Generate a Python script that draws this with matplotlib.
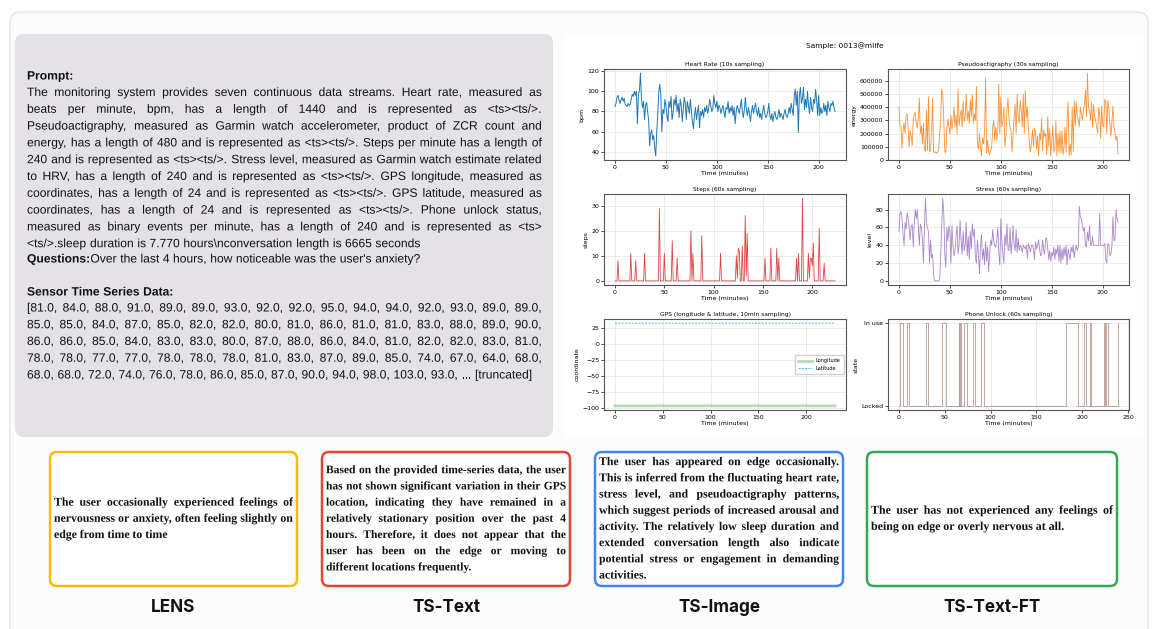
import matplotlib
matplotlib.use('Agg')
import numpy as np
import matplotlib.pyplot as plt
import matplotlib.patheffects as pe
from matplotlib.patches import FancyBboxPatch, Rectangle

W, H = 1156, 629

# ---------------- series ----------------
# heart rate, one value per minute (bpm)
hr = [85, 88, 94, 96, 91, 88, 92, 94, 90, 93, 87, 86, 85, 88, 86, 87, 93, 97, 95, 100,
      96, 100, 68, 97, 101, 118, 92, 84, 90, 72, 86, 89, 80, 72, 46, 58, 62, 52, 56, 44,
      36, 60, 78, 100, 107, 96, 60, 82, 78, 92, 86, 76, 70, 90, 84, 95, 72, 78, 92, 86,
      96, 80, 88, 74, 92, 86, 70, 82, 94, 88, 72, 90, 84, 78, 92, 80, 70, 63, 76, 84,
      72, 80, 86, 64, 80, 76, 82, 74, 84, 80, 86, 78, 83, 92, 86, 80, 82, 96, 88, 84,
      90, 80, 86, 84, 78, 82, 86, 80, 74, 84, 82, 90, 78, 84, 80, 86, 76, 84, 68, 80,
      86, 82, 78, 84, 92, 80, 74, 82, 94, 82, 76, 84, 78, 70, 80, 86, 78, 84, 88, 80,
      76, 84, 74, 78, 72, 80, 86, 78, 74, 76, 80, 88, 76, 72, 78, 70, 76, 80, 74, 72,
      76, 82, 74, 78, 76, 72, 78, 82, 76, 74, 78, 84, 78, 88, 82, 76, 96, 102, 86, 100,
      59, 96, 104, 88, 92, 104, 82, 92, 84, 100, 86, 78, 94, 84, 80, 92, 88, 102, 90, 76,
      96, 76, 84, 78, 80, 88, 80, 86, 76, 90, 84, 80, 88, 86, 90, 84, 80]

# pseudoactigraphy, thousands
pa_k = [400, 260, 250, 90, 220, 280, 200, 330, 350, 240,
        100, 220, 180, 110, 300, 350, 360, 280, 240, 310,
        470, 200, 260, 120, 280, 80, 60, 380, 70, 480,
        60, 70, 200, 470, 60, 55, 60, 50, 60, 80,
        200, 320, 540, 500, 300, 60, 55, 240, 310, 250,
        200, 340, 230, 300, 400, 250, 340, 200, 540, 260,
        330, 380, 250, 450, 290, 330, 500, 300, 370, 280,
        460, 330, 500, 280, 350, 300, 560, 120, 80, 200,
        100, 30, 170, 120, 200, 625, 50, 150, 60, 40,
        70, 100, 250, 300, 150, 250, 150, 220, 575, 200,
        480, 250, 300, 400, 100, 180, 380, 470, 300, 250,
        220, 60, 200, 330, 420, 200, 500, 330, 280, 450,
        380, 250, 500, 200, 530, 320, 400, 250, 130, 60,
        130, 230, 100, 240, 210, 80, 180, 30, 200, 150,
        320, 70, 230, 180, 200, 40, 330, 100, 240, 30,
        150, 260, 60, 80, 300, 30, 200, 60, 220, 50,
        220, 40, 100, 250, 60, 300, 440, 30, 120, 40,
        400, 60, 450, 260, 440, 330, 300, 250, 400, 350,
        300, 380, 420, 530, 330, 660, 400, 370, 300, 440,
        250, 420, 330, 300, 250, 200, 400, 350, 160, 410,
        260, 250, 460, 440, 200, 450, 380, 270, 180, 300,
        410, 250, 200, 150, 180, 40]

# steps: minutes with non-zero counts, and the counts
steps_len = 224
steps_min = [3, 16, 21, 30, 45, 50, 58, 63, 77, 79, 88, 107, 123, 124, 125, 126, 129,
             132, 133, 134, 152, 158, 164, 166, 184, 186, 190, 196, 197, 198, 199, 200,
             201, 207, 212]
steps_val = [8, 11, 8, 11, 29, 11, 16, 9, 20, 11, 18, 11, 10, 1, 13, 12, 14,
             26, 2, 19, 9, 13, 13, 9, 9, 11, 33, 11, 1, 9, 9, 6,
             15, 21, 7]

stress = [55, 75, 78, 70, 52, 40, 66, 58, 77, 70,
          60, 46, 62, 63, 38, 65, 80, 70, 80, 62,
          40, 64, 60, 48, 20, 60, 93, 66, 60, 55,
          20, 46, 26, 30, 6, 0, 0, 0, 0, 0,
          2, 30, 62, 93, 76, 30, 15, 60, 45, 62,
          55, 20, 62, 40, 28, 34, 50, 62, 30, 40,
          68, 45, 30, 56, 34, 40, 66, 28, 50, 24,
          56, 36, 64, 50, 58, 26, 20, 46, 30, 8,
          40, 52, 24, 36, 18, 44, 22, 38, 10, 30,
          46, 40, 58, 44, 40, 38, 46, 60, 30, 18,
          70, 44, 30, 20, 52, 40, 64, 36, 34, 60,
          30, 44, 62, 40, 34, 58, 32, 48, 34, 40,
          38, 32, 40, 38, 36, 40, 26, 42, 38, 32,
          40, 40, 36, 24, 44, 36, 40, 46, 36, 28,
          30, 46, 34, 30, 48, 48, 36, 24, 34, 22,
          32, 28, 38, 24, 36, 30, 40, 22, 40, 20,
          36, 24, 38, 28, 40, 18, 36, 30, 24, 38,
          32, 40, 26, 36, 40, 34, 38, 84, 72, 70,
          62, 56, 60, 40, 38, 55, 45, 62, 40, 40,
          50, 40, 40, 40, 40, 40, 40, 76, 40, 40,
          40, 40, 42, 24, 20, 42, 40, 28, 30, 40,
          72, 45, 46, 80, 70, 66]

gps_t = [0, 10, 20, 30, 40, 50, 60, 70, 80, 90, 100, 110,
         120, 130, 140, 150, 160, 170, 180, 190, 200, 210, 220, 230]
gps_lon = [-97.31, -97.31, -97.32, -97.31, -97.31, -97.31, -97.31, -97.32, -97.31, -97.31, -97.31, -97.31,
           -97.31, -97.31, -97.31, -97.31, -97.32, -97.31, -97.31, -97.31, -97.31, -97.31, -97.31, -97.31]
gps_lat = [32.91, 32.91, 32.90, 32.91, 32.91, 32.91, 32.91, 32.90, 32.91, 32.91, 32.91, 32.91,
           32.91, 32.91, 32.91, 32.91, 32.90, 32.91, 32.91, 32.91, 32.91, 32.91, 32.91, 32.91]

unlock_len = 240
unlock_on = [(1, 3), (9, 10), (29, 31), (47, 50), (65, 65), (67, 67), (71, 73), (81, 82),
             (89, 92), (182, 194), (202, 203), (208, 209), (224, 224), (226, 227), (239, 239)]

# ---------------- texts ----------------
prompt_lines = [
    "The monitoring system provides seven continuous data streams. Heart rate, measured as",
    "beats per minute, bpm, has a length of 1440 and is represented as <ts><ts/>.",
    "Pseudoactigraphy, measured as Garmin watch accelerometer, product of ZCR count and",
    "energy, has a length of 480 and is represented as <ts><ts/>. Steps per minute has a length of",
    "240 and is represented as <ts><ts/>. Stress level, measured as Garmin watch estimate related",
    "to HRV, has a length of 240 and is represented as <ts><ts/>. GPS longitude, measured as",
    "coordinates, has a length of 24 and is represented as <ts><ts/>. GPS latitude, measured as",
    "coordinates, has a length of 24 and is represented as <ts><ts/>. Phone unlock status,",
    "measured as binary events per minute, has a length of 240 and is represented as <ts>",
    "<ts/>.sleep duration is 7.770 hours\\nconversation length is 6665 seconds",
]
question = "Over the last 4 hours, how noticeable was the user's anxiety?"
data_lines = [
    "[81.0, 84.0, 88.0, 91.0, 89.0, 89.0, 93.0, 92.0, 92.0, 95.0, 94.0, 94.0, 92.0, 93.0, 89.0, 89.0,",
    "85.0, 85.0, 84.0, 87.0, 85.0, 82.0, 82.0, 80.0, 81.0, 86.0, 81.0, 81.0, 83.0, 88.0, 89.0, 90.0,",
    "86.0, 86.0, 85.0, 84.0, 83.0, 83.0, 80.0, 87.0, 88.0, 86.0, 84.0, 81.0, 82.0, 82.0, 83.0, 81.0,",
    "78.0, 78.0, 77.0, 77.0, 78.0, 78.0, 78.0, 81.0, 83.0, 87.0, 89.0, 85.0, 74.0, 67.0, 64.0, 68.0,",
    "68.0, 68.0, 72.0, 74.0, 76.0, 78.0, 86.0, 85.0, 87.0, 90.0, 94.0, 98.0, 103.0, 93.0, ... [truncated]",
]

answers = {
    "LENS": ["The user occasionally experienced feelings of",
             "nervousness or anxiety, often feeling slightly on",
             "edge from time to time"],
    "TS-Text": ["Based on the provided time-series data, the user",
                "has not shown significant variation in their GPS",
                "location, indicating they have remained in a",
                "relatively stationary position over the past 4",
                "hours. Therefore, it does not appear that the",
                "user has been on the edge or moving to",
                "different locations frequently."],
    "TS-Image": ["The user has appeared on edge occasionally.",
                 "This is inferred from the fluctuating heart rate,",
                 "stress level, and pseudoactigraphy patterns,",
                 "which suggest periods of increased arousal and",
                 "activity. The relatively low sleep duration and",
                 "extended conversation length also indicate",
                 "potential stress or engagement in demanding",
                 "activities."],
    "TS-Text-FT": ["The user has not experienced any feelings of",
                   "being on edge or overly nervous at all."],
}
box_colors = ['#fbbc04', '#ea4335', '#4285f4', '#34a853']
box_left = [50, 322, 595, 867]
box_right = [297, 570, 843, 1117]

# ---------------- figure ----------------
fig = plt.figure(figsize=(W / 100, H / 100), dpi=100)
ax0 = fig.add_axes([0, 0, 1, 1])
ax0.set_xlim(0, W)
ax0.set_ylim(H, 0)
ax0.axis('off')
rend = fig.canvas.get_renderer()

ax0.add_patch(FancyBboxPatch((10, 12), 1138, 640, boxstyle='round,pad=0,rounding_size=10',
                             fc='#fcfcfc', ec='#dddddd', lw=0.8))
ax0.add_patch(Rectangle((565, 36), 578, 400, fc='white', ec='none'))
ax0.add_patch(FancyBboxPatch((15, 34), 538, 403, boxstyle='round,pad=0,rounding_size=9',
                             fc='#e4e2e6', ec='none'))


def tw(s, **kw):
    t = ax0.text(0, 0, s, **kw)
    w = t.get_window_extent(rend).width
    t.remove()
    return w


def fit_size(lines, avail, size, **kw):
    # shrink until every justified line fits with plain spacing
    while size > 5 and any(tw(s, fontsize=size, **kw) > avail for s in lines[:-1]):
        size -= 0.1
    return size


# words go through the path renderer, so every word of a line keeps the same baseline
word_fx = [pe.Normal()]


def put_line(s, x0, x1, yb, justify=False, **kw):
    words = s.split(' ')
    ws = [tw(w, **kw) for w in words]
    gap = tw('a a', **kw) - tw('aa', **kw)
    if justify and len(words) > 1:
        gap = (x1 - x0 - sum(ws)) / (len(words) - 1)
    x = x0
    for w, d in zip(words, ws):
        ax0.text(x, yb, w, ha='left', va='baseline', path_effects=word_fx, **kw)
        x += d + gap
    return x


def put_para(lines, x0, x1, y0, dy, **kw):
    for i, s in enumerate(lines):
        put_line(s, x0, x1, y0 + i * dy, justify=(i < len(lines) - 1), **kw)


# prompt panel text
X0, X1 = 27, 542
base = dict(fontfamily='Liberation Sans', color='#111111')
psize = fit_size(prompt_lines + data_lines[:-1] + ['x'], X1 - X0 - 1, 9.0, **base)
pf = dict(fontsize=psize, **base)
pb = dict(fontsize=psize, fontweight='bold', **base)
put_line("Prompt:", X0, X1, 79.5, **pb)
put_para(prompt_lines, X0, X1, 96, 16.8, **pf)
qx = put_line("Questions:", X0, X1, 262.5, **pb) - (tw('a a', **pb) - tw('aa', **pb))
put_line(question, qx, X1, 262.5, **pf)
put_line("Sensor Time Series Data:", X0, X1, 295.5, **pb)
put_para(data_lines, X0, X1, 311.5, 16.75, **pf)

# answer boxes
abase = dict(fontfamily='Liberation Serif', fontweight='bold', color='#111111')
for (name, lines), c, l, r in zip(answers.items(), box_colors, box_left, box_right):
    ax0.add_patch(FancyBboxPatch((l, 452), r - l, 134, boxstyle='round,pad=0,rounding_size=7',
                                 fc='white', ec=c, lw=1.8))
    asz = fit_size(lines, r - l - 10, 8.6, **abase)
    n = len(lines)
    y0 = 518 - (n - 1) * 16.2 / 2 + 3.8
    put_para(lines, l + 4, r - 4, y0, 16.2, fontsize=asz, **abase)
    ax0.text((l + r) / 2, 607, name, ha='center', va='center', fontsize=12.3,
             fontfamily='Inter', fontweight='bold', color='#111111')

ax0.text(845, 46, "Sample: 0013@mlife", ha='center', va='center', fontsize=5.3,
         fontfamily='DejaVu Sans')


def px_axes(l, t, r, b):
    return fig.add_axes([l / W, 1 - b / H, (r - l) / W, (b - t) / H])


def style(ax, title, ylabel):
    ax.set_title(title, fontsize=4.3, pad=2.5)
    ax.set_xlabel('Time (minutes)', fontsize=4.5, labelpad=1)
    ax.set_ylabel(ylabel, fontsize=4.5, labelpad=2)
    ax.tick_params(labelsize=4.5, length=2, width=0.5, pad=1.5)
    ax.grid(True, color='#e4e4e4', lw=0.5)
    ax.set_axisbelow(True)
    for s in ax.spines.values():
        s.set_color('#555555')
        s.set_linewidth(0.8)


ax = px_axes(604, 69, 846, 160)
ax.plot(np.arange(len(hr)), hr, color='tab:blue', lw=0.7)
style(ax, 'Heart Rate (10s sampling)', 'bpm')

ax = px_axes(888, 69, 1129, 160)
ax.plot(np.arange(len(pa_k)), np.array(pa_k) * 1000, color='tab:orange', lw=0.6, alpha=0.85)
style(ax, 'Pseudoactigraphy (30s sampling)', 'energy')

steps = np.zeros(steps_len)
steps[steps_min] = steps_val
ax = px_axes(604, 194, 846, 285)
ax.plot(np.arange(steps_len), steps, color='tab:red', lw=0.6, alpha=0.85)
style(ax, 'Steps (60s sampling)', 'steps')

ax = px_axes(888, 194, 1129, 285)
ax.plot(np.arange(len(stress)), stress, color='tab:purple', lw=0.6, alpha=0.8)
style(ax, 'Stress (60s sampling)', 'level')

ax = px_axes(604, 319, 846, 410)
ax.plot(gps_t, gps_lon, color='tab:green', lw=2, alpha=0.35, label='Longitude')
ax.plot(gps_t, gps_lat, color='#17becf', lw=0.6, ls=(0, (2.5, 1.5)), label='Latitude')
style(ax, 'GPS (longitude & latitude, 10min sampling)', 'coordinate')
ax.legend(loc='center right', fontsize=3.6, handlelength=2.8, borderpad=0.6,
          framealpha=0.9, edgecolor='#cccccc')

unlock = np.zeros(unlock_len)
for a, b in unlock_on:
    unlock[a:b + 1] = 1
ax = px_axes(888, 319, 1129, 410)
ax.step(np.arange(unlock_len), unlock, where='post', color='tab:brown', lw=0.6, alpha=0.6)
style(ax, 'Phone Unlock (60s sampling)', 'state')
ax.set_yticks([0, 1])
ax.set_yticklabels(['Locked', 'In use'])

fig.savefig('out.png', dpi=100)
